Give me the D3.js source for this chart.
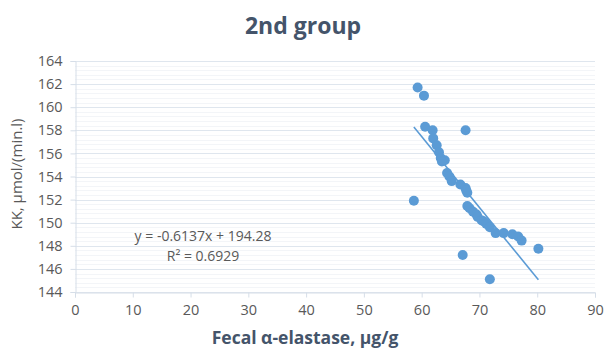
<!DOCTYPE html>
<html>
<head>
<meta charset="utf-8">
<script src="https://cdn.jsdelivr.net/npm/d3@7"></script>
<style>
  body { margin: 0; background: #fff; }
  text { font-family: "Open Sans", "DejaVu Sans", sans-serif; }
</style>
</head>
<body>
<div id="chart"></div>
<script>
// elastase (x) vs KK (y)
var elastase = [59.3, 60.4, 60.6, 61.9, 67.6, 62.0, 62.6, 63.0, 63.3, 64.0, 63.5,
                64.4, 64.8, 65.2, 66.7, 67.6, 67.7, 67.9, 58.65, 67.9, 68.3, 68.9,
                69.5, 69.7, 70.4, 70.8, 71.2, 71.8, 72.8, 74.2, 75.7, 76.7, 77.3,
                80.2, 67.1, 71.8];
var kk = [161.7, 161.0, 158.3, 158.0, 158.0, 157.3, 156.7, 156.1, 155.6, 155.4, 155.3,
          154.3, 154.0, 153.6, 153.3, 153.0, 152.8, 152.6, 151.9, 151.45, 151.25, 150.95,
          150.7, 150.5, 150.2, 150.1, 149.9, 149.6, 149.1, 149.1, 149.0, 148.8, 148.45,
          147.75, 147.2, 145.1];
var xTicks = [0, 10, 20, 30, 40, 50, 60, 70, 80, 90];
var yTicks = [144, 146, 148, 150, 152, 154, 156, 158, 160, 162, 164];
var slope = -0.6137, intercept = 194.28;
var eqLines = ["y = -0.6137x + 194.28", "R² = 0.6929"];

var W = 606, H = 350;
var m = {left: 75, right: 11, top: 61, bottom: 58};

var svg = d3.select("#chart").append("svg")
    .attr("width", W).attr("height", H);

var x = d3.scaleLinear().domain([0, 90]).range([m.left, W - m.right]);
var y = d3.scaleLinear().domain([144, 164]).range([H - m.bottom, m.top]);

// faint minor grid
svg.append("g").selectAll("line")
    .data(d3.range(144, 164.01, 0.4))
    .join("line")
    .attr("x1", x(0)).attr("x2", x(90))
    .attr("y1", function(d) { return Math.round(y(d)) + 0.5; })
    .attr("y2", function(d) { return Math.round(y(d)) + 0.5; })
    .attr("stroke", "#f3f5f8").attr("stroke-width", 1);

// major grid
svg.append("g").selectAll("line")
    .data(yTicks)
    .join("line")
    .attr("x1", x(0)).attr("x2", x(90))
    .attr("y1", function(d) { return Math.round(y(d)) + 0.5; })
    .attr("y2", function(d) { return Math.round(y(d)) + 0.5; })
    .attr("stroke", "#dfe6ee").attr("stroke-width", 1);

// axes
var xAxis = svg.append("g")
    .attr("transform", "translate(0," + (Math.round(y(144)) + 0.5) + ")")
    .call(d3.axisBottom(x).tickValues(xTicks).tickSize(5).tickPadding(7));
var yAxis = svg.append("g")
    .attr("transform", "translate(" + (x(0) + 0.5) + ",0)")
    .call(d3.axisLeft(y).tickValues(yTicks).tickSize(5).tickPadding(8));

[xAxis, yAxis].forEach(function(a) {
    a.select(".domain").attr("stroke", "#d6dee8");
    a.selectAll(".tick line").attr("stroke", "#d6dee8");
    a.selectAll(".tick text")
        .attr("fill", "#595959")
        .style("font-size", "14.5px");
});

// trendline over the data range
var xr = d3.extent(elastase);
svg.append("line")
    .attr("x1", x(xr[0])).attr("y1", y(slope * xr[0] + intercept))
    .attr("x2", x(xr[1])).attr("y2", y(slope * xr[1] + intercept))
    .attr("stroke", "#5b9bd5").attr("stroke-width", 1.6);

// points
svg.append("g").selectAll("circle")
    .data(elastase)
    .join("circle")
    .attr("cx", function(d) { return x(d); })
    .attr("cy", function(d, i) { return y(kk[i]); })
    .attr("r", 5)
    .attr("fill", "#5b9bd5");

// equation
svg.append("g").selectAll("text")
    .data(eqLines)
    .join("text")
    .attr("x", 203)
    .attr("y", function(d, i) { return 241 + i * 20; })
    .attr("text-anchor", "middle")
    .attr("fill", "#595959")
    .style("font-size", "14px")
    .text(function(d) { return d; });

// titles
svg.append("text")
    .attr("x", 303).attr("y", 34)
    .attr("text-anchor", "middle")
    .attr("fill", "#44546a")
    .style("font-size", "23px").style("font-weight", "bold")
    .text("2nd group");

svg.append("text")
    .attr("x", 305).attr("y", 344)
    .attr("text-anchor", "middle")
    .attr("fill", "#44546a")
    .style("font-size", "17.5px").style("font-weight", "bold")
    .text("Fecal α-elastase, μg/g");

svg.append("text")
    .attr("transform", "translate(22," + 174 + ") rotate(-90)")
    .attr("text-anchor", "middle")
    .attr("fill", "#595959")
    .style("font-size", "15px")
    .text("KK, μmol/(min.l)");
</script>
</body>
</html>
